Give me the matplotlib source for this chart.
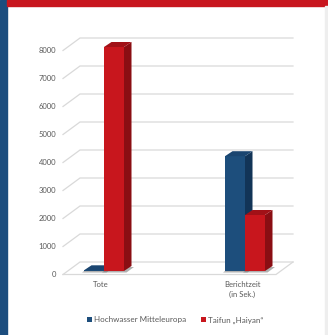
import matplotlib
matplotlib.use("Agg")
import matplotlib.pyplot as plt
from matplotlib.patches import Polygon, Rectangle, Patch
import numpy as np

# ---- data ----
categories = ["Tote", "Berichtzeit\n(in Sek.)"]
series_names = ["Hochwasser Mitteleuropa", "Taifun \u201eHaiyan\u201c"]
hochwasser = [25, 4100]
taifun = [8000, 2000]
yticks = [0, 1000, 2000, 3000, 4000, 5000, 6000, 7000, 8000]

# ---- style ----
W, H = 328, 335
front_cols = ["#1d4e7c", "#c8161d"]
side_cols = ["#123457", "#8a0e13"]
top_cols = ["#1a4570", "#a11117"]
grid_col = "#d9d9d9"
text_col = "#595959"
plt.rcParams['font.family'] = ['Lato', 'DejaVu Sans']

fig = plt.figure(figsize=(W / 100, H / 100), dpi=100)
fig.patch.set_facecolor("white")
ax = fig.add_axes([0, 0, 1, 1])
ax.axis("off")

# pixel <-> data mapping (layout only)
cat_px = 141.0          # pixels per category
x0_px = 104.0           # pixel x of first category
val_px = 0.028          # pixels per unit value
y0_px = 271.0           # pixel y (from top) of value 0 on bar front plane
ax.set_xlim(-x0_px / cat_px, (W - x0_px) / cat_px)
ax.set_ylim((y0_px - H) / val_px, y0_px / val_px)

def px_x(p):  # horizontal pixel distance -> data
    return p / cat_px

def px_y(p):  # vertical pixel distance (upwards) -> data
    return p / val_px

def xpix(p):  # absolute pixel x -> data x
    return (p - x0_px) / cat_px

# ---- frame decorations ----
fig.patches.append(Rectangle((0, 0), 7 / W, 1, transform=fig.transFigure,
                             color="#1c4d7e", zorder=0))
fig.patches.append(Rectangle((7 / W, 1 - 6 / H), 1, 6 / H, transform=fig.transFigure,
                             color="#c8161e", zorder=0))
fig.patches.append(Rectangle((325 / W, 0), 3 / W, 1 - 6 / H, transform=fig.transFigure,
                             color="#eeeeee", zorder=0))

# ---- gridlines (back wall with left diagonal) ----
back_dy = px_y(9)    # back wall sits above bar plane
front_dy = px_y(-3.5)  # floor front below bar plane
gx_front = xpix(63)
gx_back = xpix(80)
gx_end = xpix(293)
for v in yticks:
    ax.plot([gx_front, gx_back, gx_end], [v + front_dy, v + back_dy, v + back_dy],
            color=grid_col, lw=0.9, zorder=1, solid_joinstyle="miter")
    ax.text(xpix(56), v + front_dy, f"{v}", ha="right", va="center",
            fontsize=5.5, color=text_col)
# floor outline
ax.plot([gx_front, xpix(276), gx_end], [front_dy, front_dy, back_dy],
        color=grid_col, lw=0.9, zorder=1)

# ---- 3D-ish bars ----
bw = px_x(20)
ddx = px_x(7.5)
ddy = px_y(5)
x = np.arange(len(categories))
for si, vals in enumerate([hochwasser, taifun]):
    offs = (-0.5 + si) * bw
    # soft shadow on floor
    for xi in x:
        xl = xi + offs - bw / 2 - px_x(2)
        xr = xi + offs + bw / 2 + ddx + px_x(2.5)
        ax.add_patch(Polygon([[xl, -px_y(1.5)], [xr - ddx, -px_y(1.5)],
                              [xr, ddy - px_y(1)], [xl + ddx, ddy - px_y(1)]],
                             closed=True, color="#6f6f6f", alpha=0.55, lw=0, zorder=2))
    ax.bar(x + offs, vals, width=bw, color=front_cols[si], zorder=3 + si * 2, lw=0)
    for xi, v in zip(x, vals):
        xl = xi + offs - bw / 2
        xr = xl + bw
        side = Polygon([[xr, 0], [xr + ddx, ddy], [xr + ddx, v + ddy], [xr, v]],
                       closed=True, color=side_cols[si], lw=0, zorder=3 + si * 2)
        top = Polygon([[xl, v], [xr, v], [xr + ddx, v + ddy], [xl + ddx, v + ddy]],
                      closed=True, color=top_cols[si], lw=0, zorder=3 + si * 2)
        ax.add_patch(side)
        ax.add_patch(top)

# ---- category labels ----
for xi, c in zip(x, categories):
    ax.text(xi - px_x(3), -px_y(10), c, ha="center", va="top", fontsize=5.5,
            color=text_col, linespacing=1.5)

# ---- legend ----
handles = [Patch(facecolor=front_cols[i], edgecolor="none") for i in range(2)]
leg = fig.legend(handles, series_names, loc="center", bbox_to_anchor=(175 / W, 1 - 320 / H),
                 ncol=2, frameon=False, fontsize=5.8, handlelength=0.6, handleheight=0.6,
                 handletextpad=0.3, columnspacing=1.8, borderaxespad=0)
for t in leg.get_texts():
    t.set_color(text_col)

fig.savefig("out.png", dpi=100)
